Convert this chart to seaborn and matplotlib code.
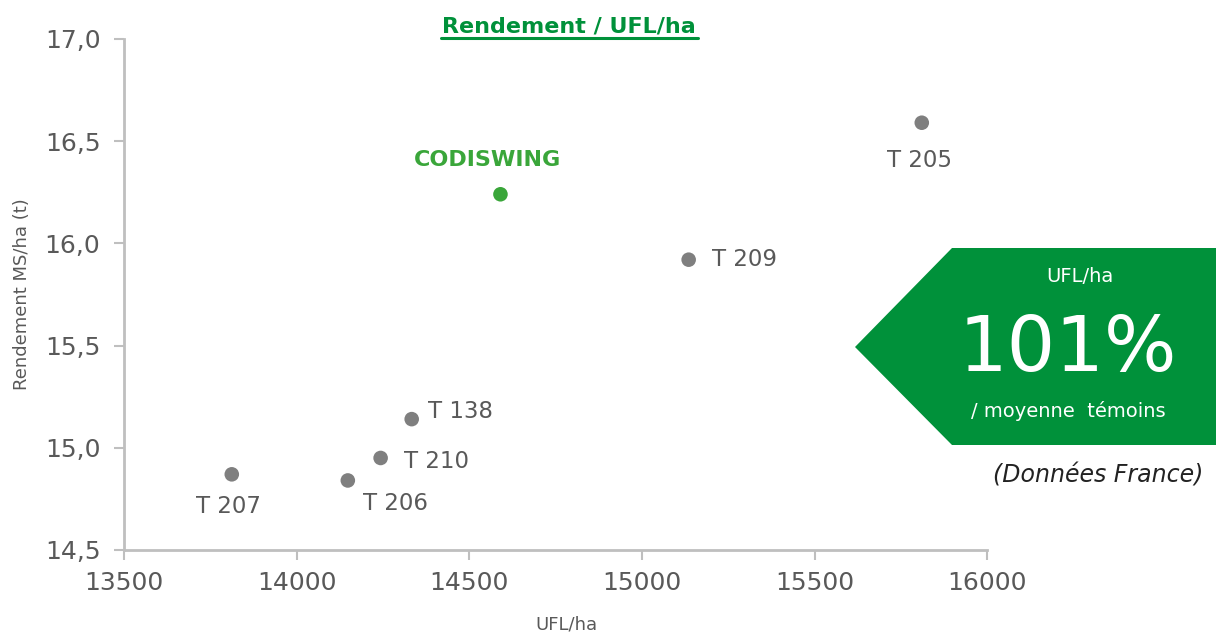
import pandas as pd
import matplotlib.pyplot as plt
import seaborn as sns
from matplotlib.patches import Polygon

# values
names = ['T 205', 'CODISWING', 'T 209', 'T 138', 'T 210', 'T 206', 'T 207']
ufl = [15810, 14590, 15135, 14333, 14243, 14148, 13812]
rdt = [16.59, 16.24, 15.92, 15.14, 14.95, 14.84, 14.87]
groups = ['Témoin', 'CODISWING', 'Témoin', 'Témoin', 'Témoin', 'Témoin', 'Témoin']
x_ticks = [13500, 14000, 14500, 15000, 15500, 16000]
y_ticks = [14.5, 15.0, 15.5, 16.0, 16.5, 17.0]

df = pd.DataFrame({'name': names, 'ufl': ufl, 'rdt': rdt, 'group': groups})

sns.set_style('white')
plt.rcParams['font.family'] = ['DejaVu Sans']

grey = '#7f7f7f'
green = '#00913a'
green_pt = '#3aa63a'
txt = '#595959'

fig = plt.figure(figsize=(12.16, 6.38), dpi=100)
ax = fig.add_axes([0.102, 0.138, 0.71, 0.801])

sns.scatterplot(data=df, x='ufl', y='rdt', hue='group',
                palette={'Témoin': grey, 'CODISWING': green_pt},
                s=110, edgecolor='none', legend=False, ax=ax)

# label offsets in pixels (dx, dy, ha)
offsets = {
    'T 205': (-2, -38, 'center'),
    'CODISWING': (-13, 34, 'center'),
    'T 209': (23, 0, 'left'),
    'T 138': (16, 8, 'left'),
    'T 210': (23, -4, 'left'),
    'T 206': (15, -23, 'left'),
    'T 207': (-3, -32, 'center'),
}
for _, r in df.iterrows():
    dx, dy, ha = offsets[r['name']]
    if r['name'] == 'CODISWING':
        ax.annotate(r['name'], (r['ufl'], r['rdt']), xytext=(dx, dy),
                    textcoords='offset pixels', ha=ha, va='center',
                    fontsize=16, fontweight='bold', color=green_pt)
    else:
        ax.annotate(r['name'], (r['ufl'], r['rdt']), xytext=(dx, dy),
                    textcoords='offset pixels', ha=ha, va='center',
                    fontsize=16.5, color=txt)

ax.set_xlim(13500, 16000)
ax.set_ylim(14.5, 17.0)
ax.set_xticks(x_ticks)
ax.set_yticks(y_ticks)
ax.set_xticklabels([str(v) for v in x_ticks])
ax.set_yticklabels([f'{v:.1f}'.replace('.', ',') for v in y_ticks])
ax.tick_params(axis='both', colors='#bfbfbf', labelcolor=txt, labelsize=18,
               length=7, width=1.5, direction='out', bottom=True, left=True)
ax.tick_params(axis='y', pad=10)
ax.tick_params(axis='x', pad=8)
for s in ['top', 'right']:
    ax.spines[s].set_visible(False)
for s in ['left', 'bottom']:
    ax.spines[s].set_color('#bfbfbf')
    ax.spines[s].set_linewidth(2)

ax.set_xlabel('UFL/ha', fontsize=13, color=txt)
ax.set_ylabel('Rendement MS/ha (t)', fontsize=13, color=txt)
ax.xaxis.set_label_coords(0.512, -0.128)
ax.yaxis.set_label_coords(-0.108, 0.5)

fig.text(569 / 1216, 1 - 26 / 638, 'Rendement / UFL/ha', ha='center', va='center',
         fontsize=16, fontweight='bold', color=green)
fig.add_artist(plt.Line2D([441 / 1216, 698 / 1216], [1 - 38 / 638, 1 - 38 / 638],
                          color=green, lw=2.2))

# arrow-shaped box on the right
W, H = 1216, 638
pts = [(855, 347), (952, 248), (1216, 248), (1216, 445), (952, 445)]
poly = Polygon([(x / W, 1 - y / H) for x, y in pts], closed=True,
               facecolor=green, edgecolor='none', transform=fig.transFigure)
fig.add_artist(poly)
fig.text(1080 / W, 1 - 276 / H, 'UFL/ha', ha='center', va='center',
         fontsize=14, color='white')
fig.text(1068 / W, 1 - 350 / H, '101%', ha='center', va='center',
         fontsize=55, color='white')
fig.text(1068 / W, 1 - 411 / H, '/ moyenne  témoins', ha='center', va='center',
         fontsize=14, color='white')
fig.text(1098 / W, 1 - 475 / H, '(Données France)', ha='center', va='center',
         fontsize=17, style='italic', color='#222222')

fig.savefig('out.png', dpi=100)
